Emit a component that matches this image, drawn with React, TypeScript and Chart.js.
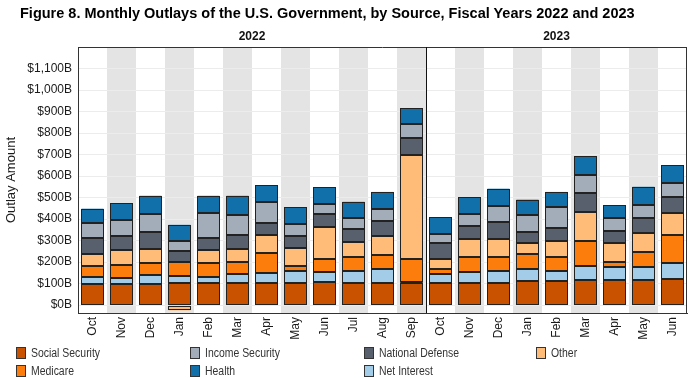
import React, { useEffect, useRef } from "react";
import { Chart, registerables } from "chart.js";

Chart.register(...registerables);

// ---- Data ----
const fiscalYears = ["2022", "2023"];
const monthsPerYear = [12, 9];
const months = [
  "Oct", "Nov", "Dec", "Jan", "Feb", "Mar", "Apr", "May", "Jun", "Jul", "Aug", "Sep",
  "Oct", "Nov", "Dec", "Jan", "Feb", "Mar", "Apr", "May", "Jun",
];

// values in billions of dollars
const socialSecurity = [98, 98, 98, 101, 101, 104, 104, 104, 107, 104, 104, 104, 104, 104, 104, 112, 112, 116, 116, 116, 121];
const netInterest = [31, 26, 40, 34, 31, 42, 43, 56, 46, 56, 65, 5, 40, 49, 56, 54, 45, 65, 62, 62, 73];
const medicare = [52, 62, 56, 64, 62, 54, 96, 21, 62, 65, 62, 104, 24, 69, 62, 71, 68, 115, 22, 70, 133];
const other = [58, 68, 68, -25, 62, 59, 81, 83, 146, 67, 91, 486, 44, 85, 85, 53, 73, 138, 88, 88, 100];
const nationalDefense = [71, 67, 78, 53, 56, 65, 59, 56, 62, 60, 67, 80, 78, 60, 78, 48, 59, 86, 58, 70, 77];
const incomeSecurity = [70, 76, 85, 45, 117, 93, 97, 58, 47, 54, 56, 61, 42, 58, 74, 79, 97, 83, 57, 61, 63];
const health = [68, 76, 83, 76, 79, 91, 77, 78, 79, 74, 81, 76, 76, 77, 82, 73, 72, 90, 62, 83, 83];

const yTickValues = [0, 100, 200, 300, 400, 500, 600, 700, 800, 900, 1000, 1100];

const seriesNames = ["Social Security", "Net Interest", "Medicare", "Other", "National Defense", "Income Security", "Health"];
const seriesData = [socialSecurity, netInterest, medicare, other, nationalDefense, incomeSecurity, health];
const seriesColors = ["#c85200", "#a3cce9", "#fc7d0b", "#ffbc79", "#57606c", "#a3acb9", "#1170aa"];

const legendRows = [
  ["Social Security", "Income Security", "National Defense", "Other"],
  ["Medicare", "Health", "Net Interest"],
];

const FONT = '"Liberation Sans", Arial, Helvetica, sans-serif';

const panelPlugin = {
  id: "panels",
  beforeDraw(chart: any) {
    const { ctx, chartArea } = chart;
    const x = chart.scales.x;
    const slot = x.getPixelForValue(1) - x.getPixelForValue(0);
    ctx.save();
    ctx.fillStyle = "#e4e4e4";
    let start = 0;
    monthsPerYear.forEach((n) => {
      for (let j = 0; j < n; j++) {
        if (j % 2 === 1) {
          const cx = x.getPixelForValue(start + j);
          ctx.fillRect(cx - slot / 2, chartArea.top, slot, chartArea.bottom - chartArea.top);
        }
      }
      start += n;
    });
    ctx.restore();
  },
  afterDatasetsDraw(chart: any) {
    const { ctx, chartArea } = chart;
    const x = chart.scales.x;
    const slot = x.getPixelForValue(1) - x.getPixelForValue(0);
    ctx.save();
    // segment outlines
    ctx.strokeStyle = "#222";
    ctx.lineWidth = 1;
    chart.data.datasets.forEach((_d: any, di: number) => {
      const meta = chart.getDatasetMeta(di);
      meta.data.forEach((el: any) => {
        const p = el.getProps(["x", "y", "base", "width"], true);
        const l = Math.round(p.x - p.width / 2) + 0.5;
        const r = Math.round(p.x + p.width / 2) - 0.5;
        const t = Math.round(Math.min(p.y, p.base)) + 0.5;
        const b = Math.round(Math.max(p.y, p.base)) - 0.5;
        ctx.strokeRect(l, t, r - l, Math.max(b - t, 0));
      });
    });
    // panel frame
    ctx.strokeStyle = "#333";
    ctx.beginPath();
    ctx.moveTo(chartArea.left, chartArea.top + 0.5);
    ctx.lineTo(chartArea.right, chartArea.top + 0.5);
    ctx.moveTo(chartArea.right - 0.5, chartArea.top);
    ctx.lineTo(chartArea.right - 0.5, chartArea.bottom);
    ctx.stroke();
    let start = 0;
    ctx.fillStyle = "#111";
    ctx.font = `bold 12px ${FONT}`;
    ctx.textAlign = "center";
    ctx.textBaseline = "middle";
    monthsPerYear.forEach((n, k) => {
      const l = x.getPixelForValue(start) - slot / 2;
      const r = x.getPixelForValue(start + n - 1) + slot / 2;
      ctx.fillText(fiscalYears[k], (l + r) / 2, 37);
      if (k < monthsPerYear.length - 1) {
        ctx.strokeStyle = "#111";
        ctx.beginPath();
        ctx.moveTo(Math.round(r) + 0.5, chartArea.top);
        ctx.lineTo(Math.round(r) + 0.5, chartArea.bottom);
        ctx.stroke();
      }
      start += n;
    });
    ctx.restore();
  },
};

export default function App() {
  const ref = useRef<HTMLCanvasElement>(null);
  useEffect(() => {
    const chart = new Chart(ref.current as HTMLCanvasElement, {
      type: "bar",
      data: {
        labels: months,
        datasets: seriesNames.map((name, i) => ({
          label: name,
          data: seriesData[i],
          backgroundColor: seriesColors[i],
          borderWidth: 0,
          barPercentage: 0.76,
          categoryPercentage: 1,
        })),
      },
      options: {
        responsive: false,
        animation: false,
        devicePixelRatio: 1,
        layout: { padding: { top: 47, right: 6, bottom: 20, left: 0 } },
        plugins: { legend: { display: false }, tooltip: { enabled: false }, title: { display: false } },
        scales: {
          x: {
            stacked: true,
            grid: { drawOnChartArea: false, drawTicks: false },
            border: { display: true, color: "#333", width: 1 },
            ticks: {
              autoSkip: false,
              minRotation: 90,
              maxRotation: 90,
              padding: 4,
              color: "#1a1a1a",
              font: { family: FONT, size: 12 },
            },
            afterFit: (s: any) => {
              s.height = 45;
            },
          },
          y: {
            stacked: true,
            min: -37,
            max: 1200,
            afterBuildTicks: (s: any) => {
              const t = [];
              for (let v = 0; v <= 1150; v += 50) t.push({ value: v });
              s.ticks = t;
            },
            grid: { color: "#ececec", drawTicks: false },
            border: { display: true, color: "#333", width: 1 },
            ticks: {
              padding: 6,
              color: "#1a1a1a",
              font: { family: FONT, size: 12 },
              callback: (v: any) =>
                yTickValues.includes(Number(v)) ? `$${Number(v).toLocaleString("en-US")}B` : "",
            },
            title: {
              display: true,
              text: "Outlay Amount",
              color: "#1a1a1a",
              font: { family: FONT, size: 13 },
            },
            afterFit: (s: any) => {
              s.width = 78;
            },
          },
        },
      },
      plugins: [panelPlugin],
    });
    return () => chart.destroy();
  }, []);

  const colX = [16, 190, 364, 536];
  const rowY = [346, 364];
  return (
    <div style={{ position: "fixed", left: 0, top: 0, width: 693, height: 378, background: "#fff", fontFamily: FONT }}>
      <canvas ref={ref} width={693} height={378} style={{ position: "absolute", left: 0, top: 0, width: 693, height: 378 }} />
      <div style={{ position: "absolute", left: 20, top: 5, fontWeight: "bold", fontSize: 14.5, color: "#000", whiteSpace: "nowrap" }}>
        Figure 8. Monthly Outlays of the U.S. Government, by Source, Fiscal Years 2022 and 2023
      </div>
      {legendRows.map((row, r) =>
        row.map((name, c) => (
          <div
            key={name}
            style={{ position: "absolute", left: colX[c], top: rowY[r], height: 14, display: "flex", alignItems: "center", whiteSpace: "nowrap" }}
          >
            <span
              style={{
                display: "inline-block",
                width: 8,
                height: 10,
                background: seriesColors[seriesNames.indexOf(name)],
                border: "1px solid #333",
                marginRight: 5,
              }}
            />
            <span
              style={{
                fontSize: 12,
                color: "#333",
                display: "inline-block",
                transform: "scaleX(0.87)",
                transformOrigin: "left center",
              }}
            >
              {name}
            </span>
          </div>
        ))
      )}
    </div>
  );
}
